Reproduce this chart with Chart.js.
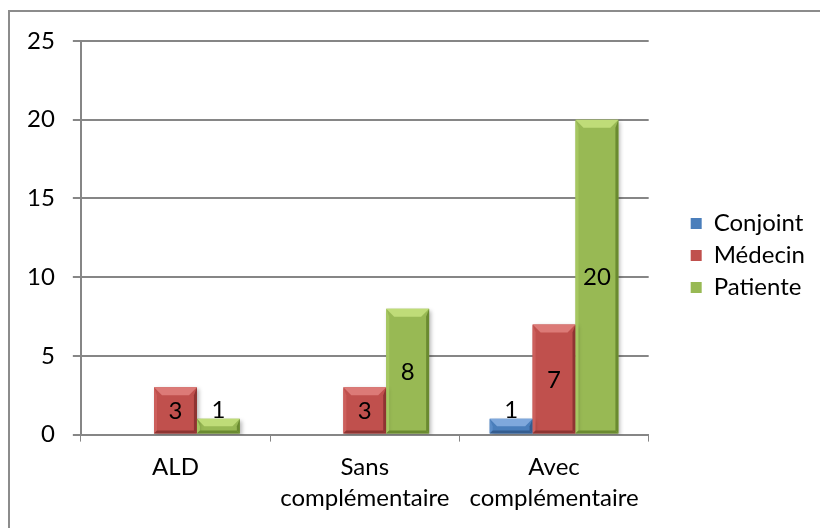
<!DOCTYPE html>
<html>
<head>
<meta charset="utf-8">
<script src="https://cdn.jsdelivr.net/npm/chart.js@4.4.1/dist/chart.umd.min.js"></script>
<style>
  html, body { margin: 0; padding: 0; background: #fff; overflow: hidden; }
  #frame { position: absolute; left: 8px; top: 10px; width: 900px; height: 600px; border: 2px solid #8c8c8c; }
  #wrap { position: absolute; left: 0; top: 0; width: 820px; height: 528px; }
</style>
</head>
<body>
<div id="frame"></div>
<div id="wrap"><canvas id="myChart"></canvas></div>
<script>
const myChart = document.getElementById("myChart");

const categories = ["ALD", ["Sans", "complémentaire"], ["Avec", "complémentaire"]];
const conjoint = [null, null, 1];
const medecin = [3, 3, 7];
const patiente = [1, 8, 20];
const yTicks = [0, 5, 10, 15, 20, 25];

const fontFamily = "Lato, 'Open Sans', sans-serif";

// Excel-like bevel + shadow on the bars
const bevelPlugin = {
  id: "bevel",
  beforeDatasetsDraw(chart) {
    const ctx = chart.ctx;
    ctx.save();
    ctx.shadowColor = "rgba(0,0,0,0.28)";
    ctx.shadowBlur = 4;
    ctx.shadowOffsetX = 2;
    ctx.shadowOffsetY = 2;
  },
  afterDatasetsDraw(chart) {
    const ctx = chart.ctx;
    ctx.restore();
    chart.data.datasets.forEach((ds, i) => {
      const meta = chart.getDatasetMeta(i);
      meta.data.forEach((bar, j) => {
        if (ds.data[j] == null) return;
        const l = bar.x - bar.width / 2, r = bar.x + bar.width / 2;
        const t = Math.min(bar.y, bar.base), b = Math.max(bar.y, bar.base);
        const h = b - t;
        const bv = Math.min(8, h / 2, bar.width / 2);
        const sv = Math.min(3, h / 2);
        const poly = (pts, color) => {
          ctx.beginPath();
          ctx.moveTo(pts[0][0], pts[0][1]);
          pts.slice(1).forEach(p => ctx.lineTo(p[0], p[1]));
          ctx.closePath();
          ctx.fillStyle = color;
          ctx.fill();
        };
        poly([[l, t], [r, t], [r - bv, t + bv], [l + bv, t + bv]], ds.bevelLight);
        poly([[l, t], [l + sv, t + bv], [l + sv, b - sv], [l, b]], ds.bevelSide);
        poly([[r, t], [r - sv, t + bv], [r - sv, b - sv], [r, b]], ds.bevelDark);
        poly([[l, b], [r, b], [r - sv, b - sv], [l + sv, b - sv]], ds.bevelDark);
      });
    });
  },
};

// value labels: centred in the bar, above it when the bar is too short
const labelPlugin = {
  id: "valueLabels",
  afterDatasetsDraw(chart) {
    const ctx = chart.ctx;
    ctx.save();
    ctx.font = "24px " + fontFamily;
    ctx.fillStyle = "#000";
    ctx.textAlign = "center";
    chart.data.datasets.forEach((ds, i) => {
      chart.getDatasetMeta(i).data.forEach((bar, j) => {
        const v = ds.data[j];
        if (v == null) return;
        const h = Math.abs(bar.base - bar.y);
        if (h >= 26) {
          ctx.textBaseline = "middle";
          ctx.fillText(String(v), bar.x, (bar.y + bar.base) / 2 + 1);
        } else {
          ctx.textBaseline = "bottom";
          ctx.fillText(String(v), bar.x, bar.y + 3);
        }
      });
    });
    ctx.restore();
  },
};

// move the legend box a little, like the Excel layout
const legendShift = {
  id: "legendShift",
  afterLayout(chart) {
    const lg = chart.legend;
    lg.left += 34; lg.right += 34;
    lg.top -= 27; lg.bottom -= 27;
  },
};

new Chart(myChart, {
  type: "bar",
  data: {
    labels: categories,
    datasets: [
      {
        label: "Conjoint",
        data: conjoint,
        backgroundColor: "#4a7ebb",
        borderColor: "#3a6599",
        bevelLight: "#7fa8dc",
        bevelSide: "#5a8cc8",
        bevelDark: "#345d90",
      },
      {
        label: "Médecin",
        data: medecin,
        backgroundColor: "#c0504d",
        borderColor: "#9a3b39",
        bevelLight: "#dc7a77",
        bevelSide: "#cc5f5c",
        bevelDark: "#8e3432",
      },
      {
        label: "Patiente",
        data: patiente,
        backgroundColor: "#98b954",
        borderColor: "#6f8c35",
        bevelLight: "#bfdc78",
        bevelSide: "#a6c761",
        bevelDark: "#6a8a30",
      },
    ],
  },
  options: {
    responsive: true,
    maintainAspectRatio: false,
    animation: false,
    layout: { padding: { left: 9, right: 39, top: 41, bottom: 4 } },
    datasets: {
      bar: { categoryPercentage: 0.68, barPercentage: 1, borderWidth: 0, grouped: true },
    },
    plugins: {
      legend: {
        position: "right",
        labels: {
          boxWidth: 11,
          boxHeight: 11,
          padding: 8,
          color: "#000",
          font: { family: fontFamily, size: 24 },
        },
      },
      tooltip: { enabled: false },
    },
    scales: {
      x: {
        grid: { drawOnChartArea: false, drawTicks: true, tickLength: 7, color: "#868686" },
        border: { color: "#868686", width: 2 },
        ticks: { color: "#000", font: { family: fontFamily, size: 24, lineHeight: 1.3 }, padding: 10, maxRotation: 0 },
      },
      y: {
        min: 0,
        max: 25,
        afterBuildTicks(axis) {
          axis.ticks = yTicks.map(v => ({ value: v }));
        },
        grid: { color: "#868686", lineWidth: 2, tickLength: 8 },
        border: { color: "#868686", width: 2 },
        ticks: { color: "#000", font: { family: fontFamily, size: 24 }, padding: 18 },
      },
    },
  },
  plugins: [bevelPlugin, labelPlugin, legendShift],
});
</script>
</body>
</html>
